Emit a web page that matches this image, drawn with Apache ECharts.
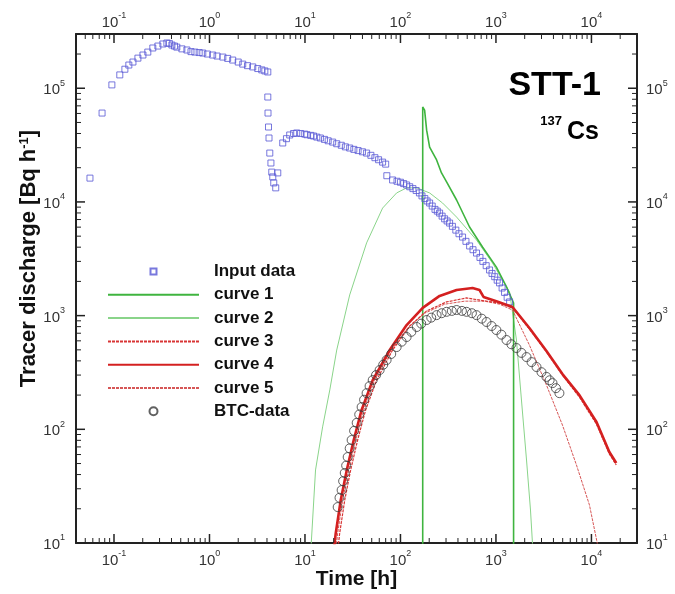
<!DOCTYPE html>
<html>
<head>
<meta charset="utf-8">
<script src="https://cdn.jsdelivr.net/npm/echarts@6/dist/echarts.min.js"></script>
<style>
html, body { margin: 0; padding: 0; background: #fff; }
#chart { width: 675px; height: 594px; }
</style>
</head>
<body>
<div id="chart"></div>
<script>
// Measured input discharge (time [h], discharge [Bq/h])
const inputTime = [0.056, 0.075, 0.095, 0.115, 0.130, 0.143, 0.158, 0.178, 0.201, 0.226, 0.255, 0.288, 0.325, 0.358, 0.38, 0.404, 0.43, 0.455, 0.514, 0.58, 0.64, 0.703, 0.78, 0.851, 0.95, 1.08, 1.2, 1.38, 1.55, 1.75, 2.0, 2.23, 2.5, 2.84, 3.2, 3.53, 3.8, 4.08,
  4.08, 4.1, 4.15, 4.2, 4.28, 4.4, 4.49, 4.6, 4.71, 4.94, 5.19,
  5.85, 6.4, 6.92, 7.6, 8.2, 9.0, 9.94, 10.5, 11.5, 12.3, 13.3, 14.5, 16, 17.5, 19.5, 21.5, 24, 26.5, 29.4, 32.5, 36, 40, 44.2, 49, 54, 59, 65, 70,
  72, 82.7, 92, 100, 108, 116, 125, 135, 146, 158, 168, 180, 190, 202, 215, 230, 243, 257, 273, 290, 308, 327, 350, 380, 410, 447, 485, 530, 575, 626, 680, 730, 790, 857, 910, 970, 1030, 1090, 1160, 1230, 1310, 1390];
const inputValue = [16200, 60500, 107000, 131000, 147000, 160000, 170000, 184000, 196000, 208000, 226000, 235000, 245000, 250000, 248000, 240000, 235000, 230000, 222000, 217000, 210000, 208000, 206000, 204000, 200000, 196000, 192000, 188000, 183000, 177000, 170000, 163000, 158000, 154000, 149000, 145000, 142000, 139000,
  83700, 60500, 45600, 36500, 26900, 22000, 18300, 16600, 14700, 13300, 18000,
  33000, 36000, 38800, 40000, 40400, 40000, 39500, 39000, 38500, 38000, 37200, 36500, 35500, 34500, 33600, 32500, 31500, 30500, 29800, 29000, 28300, 27600, 26900, 25700, 24500, 23500, 22400, 21500,
  17000, 15600, 15200, 14900, 14500, 14100, 13600, 13100, 12600, 12000, 11300, 10700, 10200, 9780, 9200, 8600, 8300, 7980, 7500, 7100, 6800, 6520, 6100, 5650, 5250, 4910, 4500, 4100, 3800, 3550, 3250, 3000, 2750, 2520, 2350, 2200, 2050, 1940, 1750, 1600, 1450, 1320];

// Model curves
const curve1Time = [171, 171, 179, 188, 202, 239, 269, 304, 387, 529, 723, 1010, 1290, 1530, 1530];
const curve1Value = [1, 68400, 64300, 42800, 30400, 23400, 18000, 15000, 10400, 6020, 4010, 2670, 1790, 1290, 1];

const curve2Time = [10.7, 12.9, 15.3, 18.2, 21.5, 29.4, 44.2, 65.0, 91.2, 116, 148, 202, 276, 387, 626, 920, 1390, 1640, 1850, 2090, 2300, 2470];
const curve2Value = [3, 43.9, 105, 222, 498, 1520, 4360, 8830, 12000, 13300, 13300, 12000, 9780, 7360, 4620, 2900, 1610, 610, 181, 53.7, 19.5, 7.1];

const curve3Time = [21.5, 23.1, 26.1, 30.1, 35.6, 43.2, 56.3, 82.7, 125, 188, 304, 492, 797, 1090, 1490, 2240, 3380, 4970, 7480, 11300, 15400, 18200];
const curve3Value = [7.1, 12.2, 23.9, 43.9, 80.5, 148, 271, 498, 811, 1100, 1320, 1430, 1340, 1290, 1170, 762, 479, 300, 192, 111, 60.7, 48.5];

const curve4Time = [19.5, 21.0, 23.7, 27.4, 32.4, 39.2, 51.2, 77.1, 116, 171, 257, 387, 569, 673, 741, 1010, 1490, 2240, 3380, 4970, 7480, 11300, 15400, 18200];
const curve4Value = [7.1, 12.2, 23.9, 43.9, 80.5, 148, 271, 498, 826, 1170, 1490, 1680, 1750, 1680, 1460, 1340, 1190, 778, 489, 306, 200, 116, 63.1, 50.6];

const curve5Time = [20.5, 22.0, 24.8, 28.7, 34.0, 41.2, 53.7, 78.9, 119, 179, 290, 469, 759, 1090, 1490, 2240, 3380, 4970, 6970, 9530, 11500, 12400];
const curve5Value = [7.1, 12.2, 23.9, 43.9, 80.5, 148, 271, 489, 778, 1050, 1260, 1340, 1340, 1260, 1120, 551, 245, 109, 48.5, 21.6, 10, 5.8];

// Breakthrough curve measurements
const btcTime = [22.0, 23.0, 24.2, 25.1, 26.1, 27, 28.0, 29.4, 30.8, 32.7, 34.8, 37, 39.2, 41.6, 44.2, 47.5, 51.2, 55.5, 60.5, 66, 71.6, 80, 91.2, 103, 116, 130, 148, 165, 188, 210, 239, 270, 304, 345, 387, 440, 492, 560, 626, 710, 797, 900, 1010, 1140, 1290, 1450, 1640, 1850, 2090, 2360, 2660, 3000, 3380, 3650, 3910, 4250, 4620];
const btcValue = [20.7, 25, 29.2, 35, 41.3, 48, 57.0, 68, 80.5, 97, 114, 135, 157, 182, 208, 240, 271, 300, 332, 370, 407, 460, 529, 590, 648, 720, 794, 850, 915, 960, 1010, 1050, 1080, 1100, 1120, 1100, 1080, 1050, 1010, 940, 879, 810, 747, 680, 610, 560, 519, 470, 432, 390, 353, 318, 289, 270, 255, 230, 208];

// Axis ranges and labelled decades (as raw values)
const xRange = [0.04, 30000];
const yRange = [10, 300000];
const xDecades = [0.1, 1, 10, 100, 1000, 10000];
const yDecades = [10, 100, 1000, 10000, 100000];
const mantissas = [2, 3, 4, 5, 6, 7, 8, 9];

const legendNames = ['Input data', 'curve 1', 'curve 2', 'curve 3', 'curve 4', 'curve 5', 'BTC-data'];

const FONT = '"Liberation Sans", Arial, Helvetica, sans-serif';
const INK = '#222';
const lg = Math.log10;

// Both axes are plotted in decades: the value axes carry log10 of each quantity.
const xLo = lg(xRange[0]), xHi = lg(xRange[1]);
const yLo = lg(yRange[0]), yHi = lg(yRange[1]);

function minorTicks(range) {
  const out = [];
  const lo = Math.floor(lg(range[0]));
  const hi = Math.ceil(lg(range[1]));
  for (let e = lo; e <= hi; e++) {
    mantissas.forEach(function (m) {
      const v = m * Math.pow(10, e);
      if (v > range[0] && v < range[1]) out.push(lg(v));
    });
  }
  return out;
}
const xMajor = xDecades.map(lg);
const yMajor = yDecades.map(lg);
const xMinor = minorTicks(xRange);
const yMinor = minorTicks(yRange);

function zip(ts, vs) { return ts.map(function (t, i) { return [lg(t), lg(vs[i])]; }); }

function powerLabel(v) {
  return '{b|10}{sup|' + Math.round(v) + '}';
}
const labelRich = {
  b: { fontSize: 15, fontFamily: FONT, color: '#333', padding: [4, 0, 0, 0] },
  sup: { fontSize: 9, fontFamily: FONT, color: '#333', verticalAlign: 'top' }
};

function decadeAxis(lo, hi, position, ticks, margin, extra) {
  const ax = {
    type: 'value',
    min: lo,
    max: hi,
    position: position,
    scale: true,
    splitLine: { show: false },
    minorTick: { show: false },
    axisLine: { show: true, onZero: false, lineStyle: { color: INK, width: 2 } },
    axisTick: { show: false },
    axisLabel: {
      show: true,
      customValues: ticks,
      formatter: powerLabel,
      rich: labelRich,
      margin: margin
    },
    silent: true
  };
  return Object.assign(ax, extra || {});
}

const xAxes = [
  decadeAxis(xLo, xHi, 'bottom', xMajor, 6, {
    name: 'Time [h]', nameLocation: 'middle', nameGap: 26, nameMoveOverlap: false,
    nameTextStyle: { fontSize: 21, fontWeight: 'bold', fontFamily: FONT, color: '#111' }
  }),
  decadeAxis(xLo, xHi, 'top', xMajor, 4)
];

const yAxes = [
  decadeAxis(yLo, yHi, 'left', yMajor, 11, {
    name: 'Tracer discharge [Bq h{sup|-1}]', nameLocation: 'middle', nameGap: 36, nameMoveOverlap: false,
    nameTextStyle: {
      fontSize: 22, fontWeight: 'bold', fontFamily: FONT, color: '#111',
      padding: [0, 0, 0, 60],
      rich: { sup: { fontSize: 13, fontWeight: 'bold', fontFamily: FONT, color: '#111', verticalAlign: 'top' } }
    }
  }),
  decadeAxis(yLo, yHi, 'right', yMajor, 9)
];

// Inward tick marks on all four frame sides: [position, 1 = decade / 0 = minor]
const xTickData = xMajor.map(function (v) { return [v, yLo, 1]; })
  .concat(xMinor.map(function (v) { return [v, yLo, 0]; }));
const yTickData = yMajor.map(function (v) { return [xLo, v, 1]; })
  .concat(yMinor.map(function (v) { return [xLo, v, 0]; }));

function tickStyle(major) { return { stroke: INK, lineWidth: major ? 1.5 : 1 }; }

function renderXTick(params, api) {
  const cs = params.coordSys;
  const major = api.value(2) === 1;
  const len = major ? 9 : 5;
  const px = api.coord([api.value(0), api.value(1)])[0];
  return {
    type: 'group',
    children: [
      { type: 'line', shape: { x1: px, y1: cs.y + cs.height, x2: px, y2: cs.y + cs.height - len }, style: tickStyle(major) },
      { type: 'line', shape: { x1: px, y1: cs.y, x2: px, y2: cs.y + len }, style: tickStyle(major) }
    ]
  };
}
function renderYTick(params, api) {
  const cs = params.coordSys;
  const major = api.value(2) === 1;
  const len = major ? 9 : 5;
  const py = api.coord([api.value(0), api.value(1)])[1];
  return {
    type: 'group',
    children: [
      { type: 'line', shape: { x1: cs.x, y1: py, x2: cs.x + len, y2: py }, style: tickStyle(major) },
      { type: 'line', shape: { x1: cs.x + cs.width, y1: py, x2: cs.x + cs.width - len, y2: py }, style: tickStyle(major) }
    ]
  };
}

function lineSeries(name, ts, vs, color, width, type, z) {
  return {
    name: name, type: 'line', data: zip(ts, vs),
    symbol: 'none', showSymbol: false, clip: true, z: z,
    lineStyle: { color: color, width: width, type: type || 'solid' },
    itemStyle: { color: color },
    emphasis: { disabled: true },
    animation: false
  };
}

const series = [
  { type: 'custom', data: xTickData, renderItem: renderXTick, silent: true, z: 10, animation: false,
    encode: { x: 0, y: 1 } },
  { type: 'custom', data: yTickData, renderItem: renderYTick, silent: true, z: 10, animation: false,
    encode: { x: 0, y: 1 } },
  lineSeries('curve 2', curve2Time, curve2Value, '#8ad48a', 1, 'solid', 2),
  lineSeries('curve 1', curve1Time, curve1Value, '#3fb43f', 1.6, 'solid', 3),
  {
    name: 'Input data', type: 'scatter', data: zip(inputTime, inputValue),
    symbol: 'rect', symbolSize: 6, z: 4, clip: true,
    itemStyle: { color: 'rgba(255,255,255,0)', borderColor: '#5656d4', borderWidth: 1 },
    emphasis: { disabled: true }, animation: false
  },
  lineSeries('curve 5', curve5Time, curve5Value, '#d65656', 1, [3, 1], 5),
  lineSeries('curve 3', curve3Time, curve3Value, '#d83434', 1.2, [3, 1], 5),
  lineSeries('curve 4', curve4Time, curve4Value, '#d42020', 2.6, 'solid', 6),
  {
    name: 'BTC-data', type: 'scatter', data: zip(btcTime, btcValue),
    symbol: 'circle', symbolSize: 9, z: 7, clip: true,
    itemStyle: { color: 'rgba(255,255,255,0)', borderColor: '#3a3a3a', borderWidth: 1 },
    emphasis: { disabled: true }, animation: false
  }
];

// Legend key: a small square in the middle of the key box for the input data
const SQUARE_KEY = 'path://M0,0M91,8M42.5,1h6v6h-6z';

const chart = echarts.init(document.getElementById('chart'), null, { renderer: 'canvas' });
chart.setOption({
  animation: false,
  backgroundColor: '#fff',
  textStyle: { fontFamily: FONT },
  grid: { left: 76, right: 38, top: 34, bottom: 51, containLabel: false, outerBoundsMode: 'none' },
  xAxis: xAxes,
  yAxis: yAxes,
  legend: {
    orient: 'vertical', left: 107, top: 263, padding: 0,
    itemWidth: 91, itemHeight: 8, itemGap: 6.3,
    selectedMode: false,
    textStyle: { fontSize: 17, fontWeight: 'bold', fontFamily: FONT, color: '#111', padding: [0, 0, 0, 10] },
    data: legendNames.map(function (n) {
      if (n === 'Input data') return { name: n, icon: SQUARE_KEY };
      if (n === 'BTC-data') return { name: n };
      return { name: n, itemStyle: { opacity: 0 } };
    })
  },
  graphic: [
    { type: 'text', x: 601, y: 86, silent: true,
      style: { text: 'STT-1', font: 'bold 34px ' + FONT, fill: '#000', align: 'right', verticalAlign: 'middle' } },
    { type: 'text', x: 599, y: 132, silent: true,
      style: { text: 'Cs', font: 'bold 25px ' + FONT, fill: '#000', align: 'right', verticalAlign: 'middle' } },
    { type: 'text', x: 562, y: 121, silent: true,
      style: { text: '137', font: 'bold 13px ' + FONT, fill: '#000', align: 'right', verticalAlign: 'middle' } }
  ],
  series: series
});
</script>
</body>
</html>
